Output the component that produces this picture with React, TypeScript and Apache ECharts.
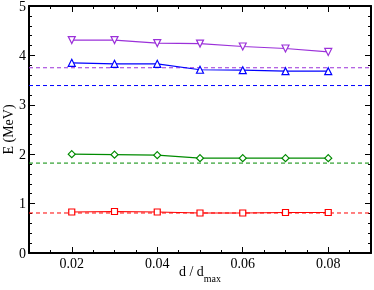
import React, { useEffect, useRef } from "react";
import * as echarts from "echarts";

const xValues = [0.02, 0.03, 0.04, 0.05, 0.06, 0.07, 0.08];
const purpleValues = [4.31, 4.31, 4.25, 4.24, 4.18, 4.14, 4.07];
const blueValues = [3.85, 3.83, 3.83, 3.71, 3.7, 3.68, 3.68];
const greenValues = [2.0, 1.99, 1.98, 1.92, 1.92, 1.92, 1.92];
const redValues = [0.83, 0.84, 0.83, 0.81, 0.81, 0.82, 0.82];
const refPurple = 3.75;
const refBlue = 3.39;
const refGreen = 1.82;
const refRed = 0.81;
const xRange = [0.01, 0.09];
const xMajorTicks = [0.02, 0.04, 0.06, 0.08];

const FONT = "Liberation Serif";

export default function App() {
  const ref = useRef<HTMLDivElement>(null);
  useEffect(() => {
    if (!ref.current) return;
    const chart = echarts.init(ref.current, null, { renderer: "svg" });
    const pair = (ys: number[]) => xValues.map((x, i) => [x, ys[i]]);
    const refLine = (v: number) => xRange.map((x) => [x, v]);
    const dataSeries = (name: string, ys: number[], color: string, symbol: string, size: number, rot = 0) => ({
      name,
      type: "line",
      data: pair(ys),
      symbol,
      symbolSize: size,
      symbolRotate: rot,
      showSymbol: true,
      lineStyle: { color, width: 1.2 },
      itemStyle: { color: "#ffffff", borderColor: color, borderWidth: 1.2 },
      z: 5,
    });
    const dashSeries = (ys: number, color: string) => ({
      type: "line",
      data: refLine(ys),
      symbol: "none",
      color,
      lineStyle: { color, width: 1, type: [4, 3] },
      z: 3,
    });
    const minorX = (position: "bottom" | "top") => ({
      type: "value",
      position,
      min: xRange[0],
      max: xRange[1],
      interval: 0.005,
      axisLine: { show: true, lineStyle: { color: "#000", width: 2 } },
      axisTick: { show: true, inside: true, length: 3, lineStyle: { color: "#000", width: 1 } },
      axisLabel: { show: false },
      splitLine: { show: false },
    });
    const majorX = (position: "bottom" | "top", labels: boolean) => ({
      type: "value",
      position,
      min: xRange[0],
      max: xRange[1],
      axisLine: { show: false },
      axisTick: { show: true, inside: true, length: 6, customValues: xMajorTicks, lineStyle: { color: "#000", width: 1 } },
      axisLabel: {
        show: labels,
        customValues: xMajorTicks,
        formatter: (v: number) => v.toFixed(2),
        fontFamily: FONT,
        fontSize: 14,
        color: "#000",
        margin: 3,
      },
      splitLine: { show: false },
      ...(labels
        ? {
            name: "{a|d / d}{b|max}",
            nameLocation: "middle",
            nameGap: 11,
            nameMoveOverlap: false,
            nameTextStyle: {
              rich: {
                a: { fontFamily: FONT, fontSize: 14, color: "#000", verticalAlign: "top", lineHeight: 15 },
                b: { fontFamily: FONT, fontSize: 10, color: "#000", verticalAlign: "top", padding: [9, 0, 0, 0], lineHeight: 11 },
              },
            },
          }
        : {}),
    });
    const yAx = (position: "left" | "right", labels: boolean) => ({
      type: "value",
      position,
      min: 0,
      max: 5,
      interval: 1,
      axisLine: { show: true, lineStyle: { color: "#000", width: 2 } },
      axisTick: { show: true, inside: true, length: 6, lineStyle: { color: "#000", width: 1 } },
      minorTick: { show: true, splitNumber: 5, length: 3, lineStyle: { color: "#000", width: 1 } },
      axisLabel: { show: labels, fontFamily: FONT, fontSize: 14, color: "#000", margin: 3 },
      splitLine: { show: false },
      minorSplitLine: { show: false },
      ...(labels
        ? {
            name: "E (MeV)",
            nameLocation: "middle",
            nameRotate: 90,
            nameGap: 14,
            nameMoveOverlap: false,
            nameTextStyle: { fontFamily: FONT, fontSize: 14, color: "#000" },
          }
        : {}),
    });
    chart.setOption({
      animation: false,
      grid: { left: 29, right: 3, top: 6, bottom: 37, containLabel: false, outerBoundsMode: "none" },
      xAxis: [majorX("bottom", true), minorX("bottom"), majorX("top", false), minorX("top")],
      yAxis: [yAx("left", true), yAx("right", false)],
      series: [
        dashSeries(refPurple, "#9b30d9"),
        dashSeries(refBlue, "#0000ff"),
        dashSeries(refGreen, "#008b00"),
        dashSeries(refRed, "#ff0000"),
        dataSeries("purple", purpleValues, "#9b30d9", "triangle", 7, 180),
        dataSeries("blue", blueValues, "#0000ff", "triangle", 7),
        dataSeries("green", greenValues, "#008b00", "diamond", 7),
        dataSeries("red", redValues, "#ff0000", "rect", 6),
      ],
    });
    return () => chart.dispose();
  }, []);
  return <div ref={ref} style={{ position: "fixed", left: 0, top: 0, width: 374, height: 290 }} />;
}
